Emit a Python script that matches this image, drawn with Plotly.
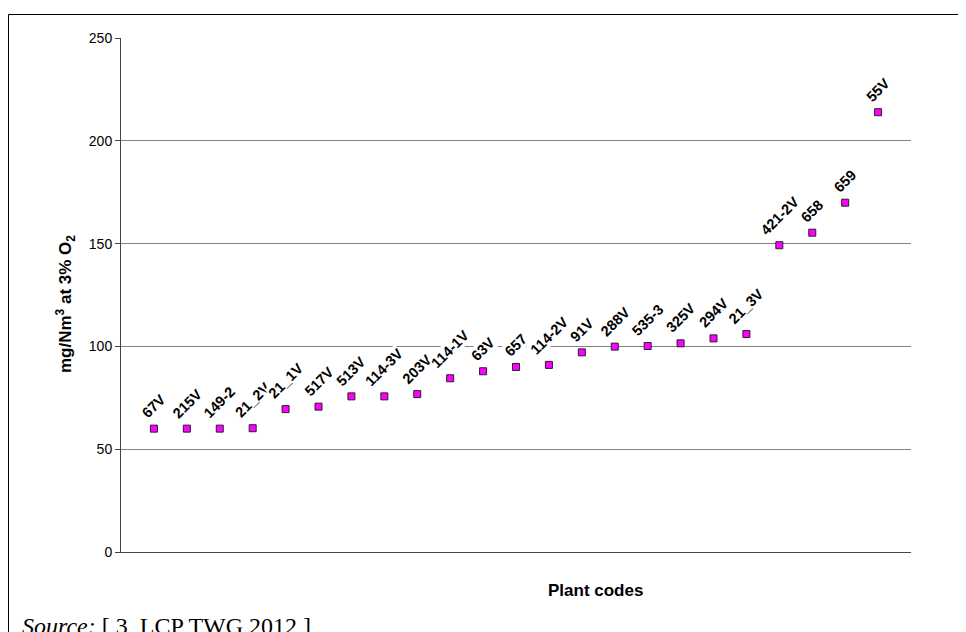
import plotly.graph_objects as go

plant_codes = ["67V", "215V", "149-2", "21_2V", "21_1V", "517V", "513V", "114-3V",
               "203V", "114-1V", "63V", "657", "114-2V", "91V", "288V", "535-3",
               "325V", "294V", "21_3V", "421-2V", "658", "659", "55V"]
emissions = [60, 60, 60, 60.2, 69.5, 70.7, 75.7, 75.7, 76.8, 84.5, 87.9, 90,
             91, 97.1, 99.9, 100.2, 101.5, 103.9, 106, 149.2, 155.3, 169.9, 213.9]
y_ticks = [0, 50, 100, 150, 200, 250]

positions = list(range(1, len(plant_codes) + 1))

# page has an 8px body margin; figure sized to fill the rest of the window
OFF = 8
W, H = 966 - OFF, 632 - OFF
L, R, T, B = 121 - OFF, 966 - 911, 38 - OFF, 632 - 552
pw, ph = W - L - R, H - T - B

def px_to_paper_x(px):
    return (px - OFF - L) / pw

def px_to_paper_y(py):
    return (H - B - (py - OFF)) / ph

fig = go.Figure()
fig.add_trace(go.Scatter(
    x=positions, y=emissions, mode="markers",
    marker=dict(symbol="square", size=7, color="#FF00FF",
                line=dict(color="#222222", width=1)),
    hoverinfo="skip", showlegend=False, cliponaxis=False,
))

annotations = []
for xp, val, code in zip(positions, emissions, plant_codes):
    annotations.append(dict(
        x=xp, y=val, xref="x", yref="y", text="<b>" + code + "</b>",
        textangle=-45, showarrow=False, xanchor="center", yanchor="bottom",
        yshift=6, bgcolor="white", borderpad=0,
        font=dict(family="Liberation Sans, Arial", size=14.5, color="black"),
    ))

annotations.append(dict(
    x=px_to_paper_x(66), y=px_to_paper_y(304), xref="paper", yref="paper",
    text="<b>mg/Nm<sup>3</sup> at 3% O<sub>2</sub></b>", textangle=-90,
    showarrow=False, xanchor="center", yanchor="middle",
    font=dict(family="Liberation Sans, Arial", size=17, color="black"),
))
annotations.append(dict(
    x=px_to_paper_x(595), y=px_to_paper_y(590), xref="paper", yref="paper",
    text="<b>Plant codes</b>", showarrow=False, xanchor="center", yanchor="middle",
    font=dict(family="Liberation Sans, Arial", size=17, color="black"),
))
annotations.append(dict(
    x=px_to_paper_x(20), y=px_to_paper_y(626), xref="paper", yref="paper",
    text="<i>Source:</i> [ 3, LCP TWG 2012 ]", showarrow=False,
    xanchor="left", yanchor="middle",
    font=dict(family="Liberation Serif, Times New Roman", size=24, color="black"),
))

fig.update_layout(
    width=W, height=H,
    margin=dict(l=L, r=R, t=T, b=B),
    paper_bgcolor="white", plot_bgcolor="white",
    annotations=annotations,
    shapes=[dict(type="rect", xref="paper", yref="paper",
                 x0=px_to_paper_x(8.5), x1=px_to_paper_x(1000),
                 y0=px_to_paper_y(700), y1=px_to_paper_y(14.5),
                 line=dict(color="black", width=1), fillcolor="rgba(0,0,0,0)",
                 layer="below")],
    xaxis=dict(range=[0, 24], showgrid=False, zeroline=False, showticklabels=False,
               ticks="", showline=True, linecolor="#444444", linewidth=1),
    yaxis=dict(range=[0, 250], tickvals=y_ticks, showgrid=True, gridcolor="#808080",
               gridwidth=1, zeroline=False, showline=True, linecolor="#444444",
               linewidth=1, ticks="outside", ticklen=5, tickcolor="#444444",
               tickfont=dict(family="Liberation Sans, Arial", size=14, color="black")),
    font=dict(family="Liberation Sans, Arial"),
)

fig.write_html("out.html")
